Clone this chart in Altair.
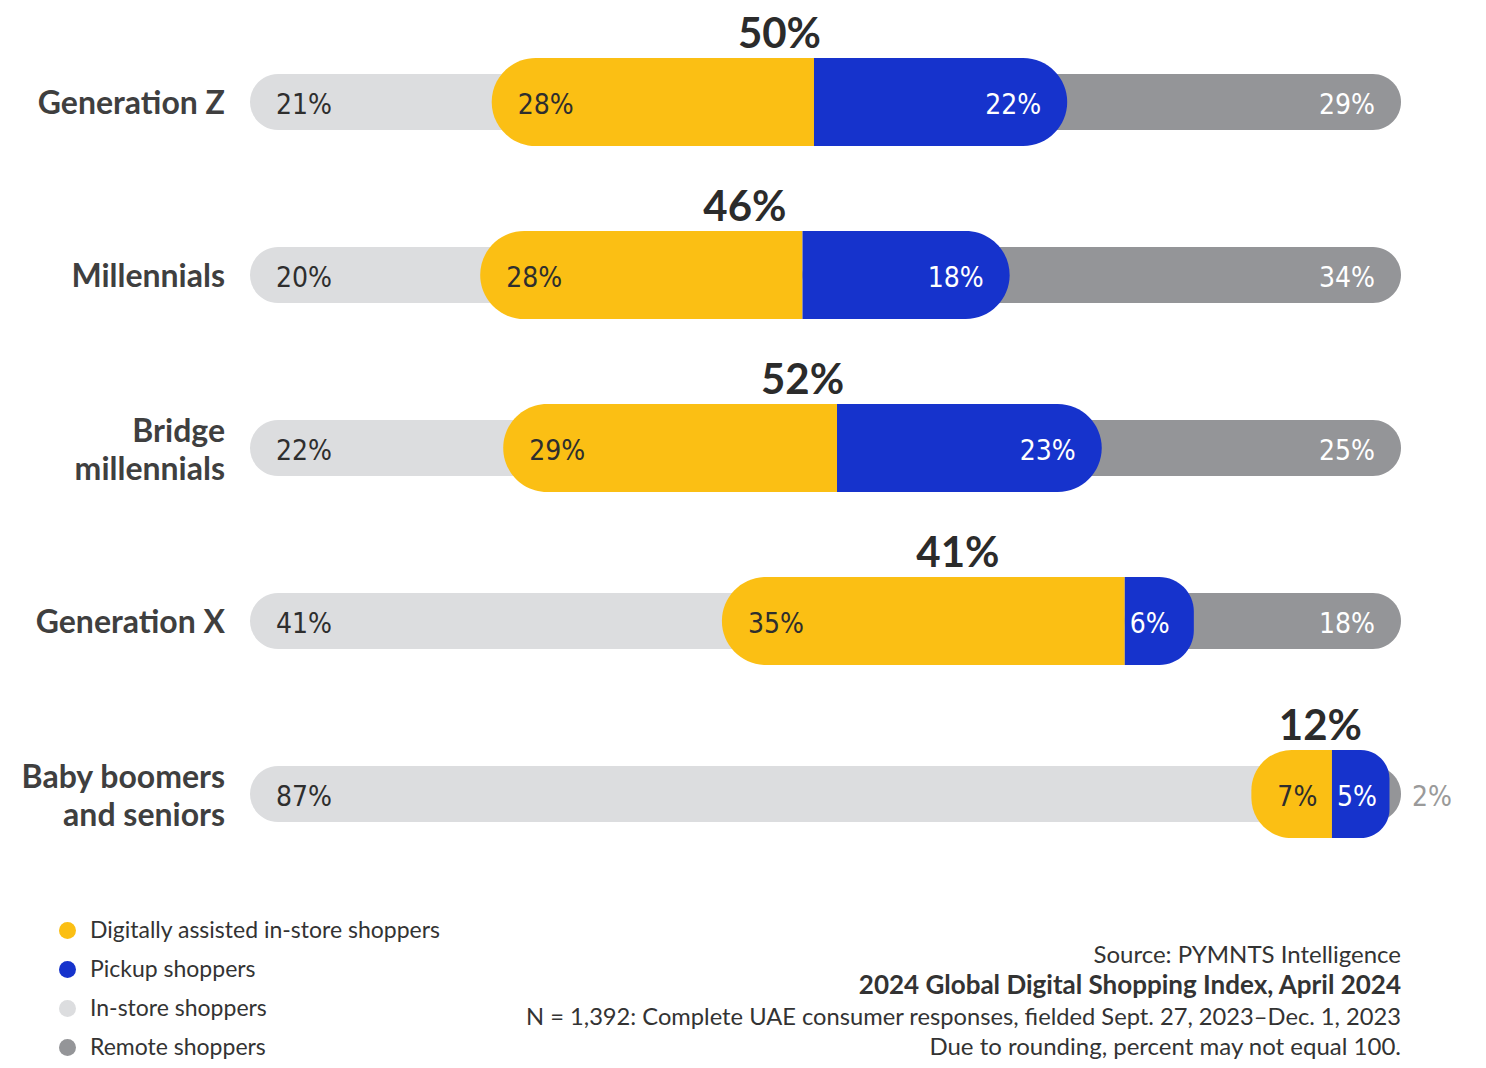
import altair as alt
import pandas as pd

categories = ["Generation Z", "Millennials", "Bridge\nmillennials", "Generation X", "Baby boomers\nand seniors"]
in_store = [21, 20, 22, 41, 87]
digital = [28, 28, 29, 35, 7]
pickup = [22, 18, 23, 6, 5]
remote = [29, 34, 25, 18, 2]
totals = [50, 46, 52, 41, 12]

seg_names = ["Digitally assisted in-store shoppers", "Pickup shoppers", "In-store shoppers", "Remote shoppers"]
seg_colors = ["#FBBF14", "#1633CC", "#DCDDDF", "#949598"]

footnotes = [
    "Source: PYMNTS Intelligence",
    "2024 Global Digital Shopping Index, April 2024",
    "N = 1,392: Complete UAE consumer responses, fielded Sept. 27, 2023\u2013Dec. 1, 2023",
    "Due to rounding, percent may not equal 100.",
]

rows = []
segs = []
for i, c in enumerate(categories):
    d0 = in_store[i]
    d1 = d0 + digital[i]
    d2 = d1 + pickup[i]
    rows.append(dict(row=i, cat=c, nlines=c.count("\n") + 1, d0=d0, d1=d1, d2=d2, mid=(d0 + d2) / 2,
                     zero=0, full=100,
                     l_in=f"{in_store[i]}%", l_dig=f"{digital[i]}%", l_pick=f"{pickup[i]}%",
                     l_rem=f"{remote[i]}%", l_tot=f"{totals[i]}%",
                     pick=pickup[i], rem=remote[i]))
    segs.append(dict(row=i, segment=seg_names[2], start=0, end=d1, kind="thin"))
    segs.append(dict(row=i, segment=seg_names[3], start=d1, end=100, kind="thin"))
    segs.append(dict(row=i, segment=seg_names[0], start=d0, end=d1, kind="dig"))
    segs.append(dict(row=i, segment=seg_names[1], start=d1, end=d2, kind="pick"))

df = pd.DataFrame(rows)
sdf = pd.DataFrame(segs)

xs = alt.Scale(domain=[0, 100], range=[242, 1393], nice=False, zero=False, padding=0)
ys = alt.Scale(domain=[0, 4], range=[94, 786], nice=False, zero=False, padding=0)
cs = alt.Scale(domain=seg_names, range=seg_colors)

FONT = "Lato"
NUMFONT = "'DejaVu Sans Condensed', 'Liberation Sans Narrow', Lato"

legend = alt.Legend(
    title=None, orient="none", legendX=48, legendY=911, direction="vertical",
    symbolType="circle", symbolSize=289, symbolStrokeWidth=0, symbolOpacity=1,
    labelFontSize=23, labelFont=FONT, labelColor="#333333", labelOffset=11,
    labelLimit=0, rowPadding=15, padding=0,
)

base_s = alt.Chart(sdf)
enc = dict(
    x=alt.X("start:Q", scale=xs, axis=None),
    x2="end:Q",
    y=alt.Y("row:Q", scale=ys, axis=None),
)

thin = base_s.transform_filter("datum.kind == 'thin'").mark_bar(
    orient="horizontal", size=56, cornerRadius=28
).encode(color=alt.Color("segment:N", scale=cs, legend=legend), **enc)

dig = base_s.transform_filter("datum.kind == 'dig'").mark_bar(
    orient="horizontal", size=88, cornerRadiusTopLeft=44, cornerRadiusBottomLeft=44
).encode(color=alt.Color("segment:N", scale=cs, legend=legend), **enc)

pick = base_s.transform_filter("datum.kind == 'pick'").mark_bar(
    orient="horizontal", size=88, cornerRadiusTopRight=44, cornerRadiusBottomRight=44
).encode(color=alt.Color("segment:N", scale=cs, legend=legend), **enc)

base = alt.Chart(df)
Y = alt.Y("row:Q", scale=ys, axis=None)

def lbl(field, text, align, dx, color, flt=None, size=28, weight="normal", dy=12,
        font=NUMFONT, baseline="alphabetic"):
    ch = base
    if flt:
        ch = ch.transform_filter(flt)
    return ch.mark_text(align=align, baseline=baseline, dx=dx, dy=dy, fontSize=size,
                        font=font, fontWeight=weight, color=color).encode(
        x=alt.X(f"{field}:Q", scale=xs, axis=None), y=Y, text=f"{text}:N")

t_in = lbl("zero", "l_in", "left", 26, "#2e2e2e")
t_dig = lbl("d0", "l_dig", "left", 26, "#2e2e2e")
t_pick_w = lbl("d2", "l_pick", "right", -26, "white", "datum.pick >= 10")
t_pick_n = lbl("d1", "l_pick", "left", 5, "white", "datum.pick < 10")
t_rem_w = lbl("full", "l_rem", "right", -26, "white", "datum.rem >= 5")
t_rem_n = lbl("full", "l_rem", "left", 11, "#9a9a9a", "datum.rem < 5")
t_tot = lbl("mid", "l_tot", "center", 0, "#2b2b2b", size=42, weight="bold", dy=-54, font=FONT)

def cat_layer(n, dy):
    return base.transform_filter(f"datum.nlines == {n}").mark_text(
        align="right", baseline="middle", dx=-25, dy=dy, fontSize=32, font=FONT,
        fontWeight="bold", color="#3f3f3f", lineBreak="\n", lineHeight=38).encode(
        x=alt.X("zero:Q", scale=xs, axis=None), y=Y, text="cat:N")

t_cat1 = cat_layer(1, 2)
t_cat2 = cat_layer(2, -16)

foot_layers = []
foot_y = [955, 986, 1017, 1047]
foot_size = [24, 26, 23.7, 24]
for i, t in enumerate(footnotes):
    foot_layers.append(
        alt.Chart(pd.DataFrame({"t": [t]})).mark_text(
            align="right", baseline="alphabetic", fontSize=foot_size[i], font=FONT,
            fontWeight="bold" if i == 1 else "normal", color="#333333"
        ).encode(x=alt.value(1393), y=alt.value(foot_y[i]), text="t:N")
    )

chart = alt.layer(thin, dig, pick, t_in, t_dig, t_pick_w, t_pick_n, t_rem_w, t_rem_n,
                  t_tot, t_cat1, t_cat2, *foot_layers).properties(
    width=1470, height=1052, padding=0, background="white",
    autosize=alt.AutoSizeParams(type="none")
).configure_view(strokeWidth=0, stroke="transparent")

chart.save("out.html", embed_options={"renderer": "svg", "actions": False})
